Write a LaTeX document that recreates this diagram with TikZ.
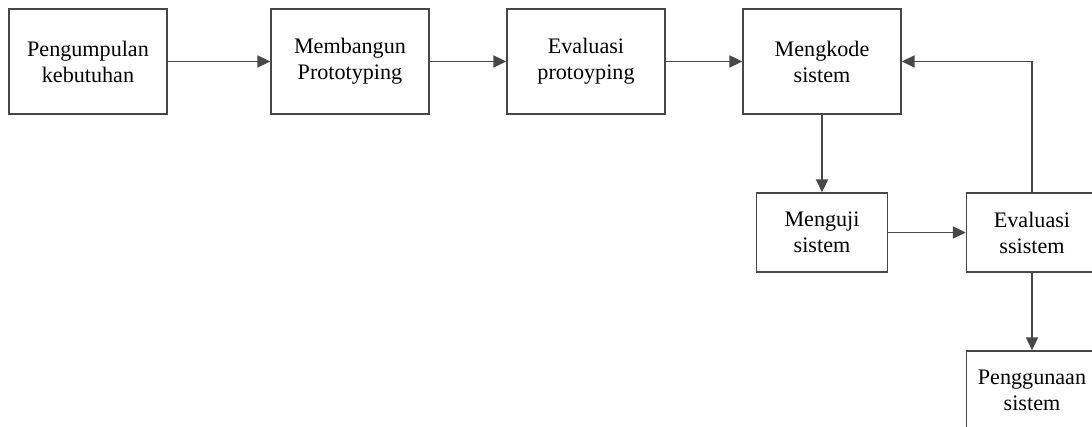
\documentclass[tikz,border=0pt]{standalone}
\usepackage{fontspec}
\setmainfont{Liberation Serif}
\usetikzlibrary{positioning, arrows.meta}

\begin{document}
\begin{tikzpicture}[
    x=0.75pt, y=-0.75pt,
    font=\fontsize{16.6}{19.5}\selectfont,
    >={Triangle[length=9.5pt, width=9pt]},
    bigbox/.style={draw=black!72, line width=1.3pt, fill=white, align=center,
                   minimum width=118.5pt, minimum height=78.75pt, inner sep=2pt},
    smallbox/.style={draw=black!72, line width=1.3pt, fill=white, align=center,
                     minimum width=98.25pt, minimum height=59.25pt, inner sep=2pt},
    flow/.style={->, draw=black!72, line width=1.3pt},
]

% ---- Page frame (boxes on the right run past the edge) ----
\clip (0,0) rectangle (1092,427);

% ---- Top row ----
\node[bigbox] (kumpul)    at (88,61.5)  {Pengumpulan\\kebutuhan};
\node[bigbox] (bangun)    at (350,61.5) {Membangun\\Prototyping};
\node[bigbox] (evalproto) at (586,61.5) {Evaluasi\\protoyping};
\node[bigbox] (kode)      at (822,61.5) {Mengkode\\sistem};

% ---- Lower steps ----
\node[smallbox] (uji)     at (822,232.5)  {Menguji\\sistem};
\node[smallbox] (evalsis) at (1032,232.5) {Evaluasi\\ssistem};
\node[smallbox] (guna)    at (1032,390.5) {Penggunaan\\sistem};

% ---- Connectors ----
\draw[flow] (kumpul) -- (bangun);
\draw[flow] (bangun) -- (evalproto);
\draw[flow] (evalproto) -- (kode);
\draw[flow] (kode) -- (uji);
\draw[flow] (uji) -- (evalsis);
\draw[flow] (evalsis.north) |- (kode.east);
\draw[flow] (evalsis) -- (guna);

\end{tikzpicture}
\end{document}
